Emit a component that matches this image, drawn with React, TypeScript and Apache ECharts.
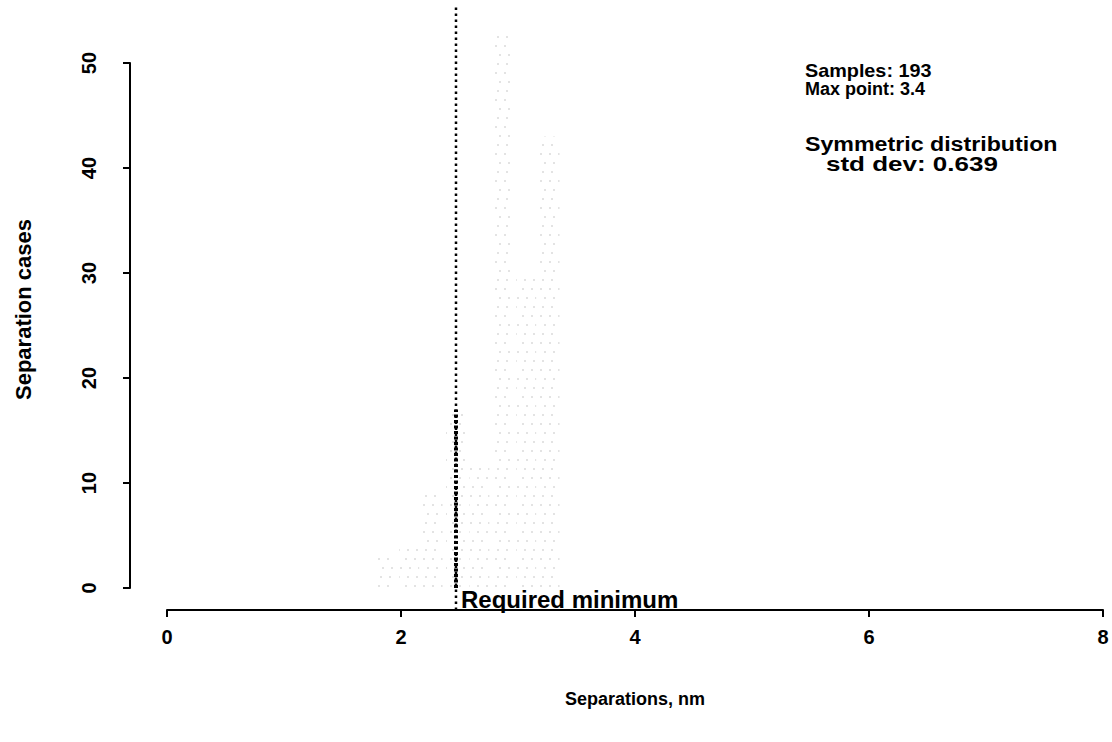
import React, { useEffect, useRef } from "react";
import * as echarts from "echarts";

// Histogram bin centres (nm) and counts
const binCenters = [1.87, 2.07, 2.27, 2.47, 2.67, 2.87, 3.07, 3.27];
const binCounts = [3, 4, 9, 17, 12, 53, 30, 43];

const xTicks = [0, 2, 4, 6, 8];
const yTicks = [0, 10, 20, 30, 40, 50];

const requiredMinimum = 2.47;
const requiredLineSpan = [-2.1, 55.3];
const requiredLabel = "Required minimum";

const statsLines = ["Samples: 193", "Max point: 3.4"];
const distLines = ["Symmetric distribution", "std dev: 0.639"];

const FONT = "'Liberation Sans', Arial, Helvetica, sans-serif";

export default function App() {
  const ref = useRef<HTMLDivElement>(null);

  useEffect(() => {
    if (!ref.current) return;
    const chart = echarts.init(ref.current, undefined, { renderer: "svg" });

    const option: any = {
      animation: false,
      backgroundColor: "#ffffff",
      textStyle: { fontFamily: FONT },
      grid: { left: 167, top: 63, width: 936, height: 525, containLabel: false },
      xAxis: {
        type: "value",
        min: xTicks[0],
        max: xTicks[xTicks.length - 1],
        interval: 2,
        position: "bottom",
        offset: 22,
        name: "Separations, nm",
        nameLocation: "middle",
        nameGap: 80,
        nameTextStyle: { color: "#000", fontSize: 18, fontWeight: "bold", fontFamily: FONT },
        axisLine: { show: true, onZero: false, lineStyle: { color: "#000", width: 2 } },
        axisTick: { show: true, inside: false, length: 7, lineStyle: { color: "#000", width: 2 } },
        axisLabel: { color: "#000", fontSize: 20, fontWeight: "bold", margin: 17, fontFamily: FONT },
        splitLine: { show: false },
      },
      yAxis: {
        type: "value",
        min: yTicks[0],
        max: yTicks[yTicks.length - 1],
        interval: 10,
        position: "left",
        offset: 37,
        name: "Separation cases",
        nameLocation: "middle",
        nameGap: 96,
        nameTextStyle: {
          color: "#000",
          fontSize: 22,
          fontWeight: "bold",
          fontFamily: FONT,
          padding: [0, 0, 0, 32],
        },
        axisLine: { show: true, onZero: false, lineStyle: { color: "#000", width: 2 } },
        axisTick: { show: true, inside: false, length: 7, lineStyle: { color: "#000", width: 2 } },
        axisLabel: { color: "#000", fontSize: 20, fontWeight: "bold", rotate: 90, margin: 31, fontFamily: FONT },
        splitLine: { show: false },
      },
      series: [
        {
          type: "bar",
          clip: false,
          barWidth: 20,
          data: binCenters.map((c, i) => [c, binCounts[i]]),
          itemStyle: {
            color: "rgba(255,255,255,0)",
            decal: {
              symbol: "rect",
              symbolSize: 0.5,
              color: "#8e8e8e",
              backgroundColor: "rgba(255,255,255,0)",
              dashArrayX: [[2, 7], [0, 4, 2, 3], [0, 2, 2, 5]],
              dashArrayY: [2, 7],
              rotation: 0,
            },
          },
        },
        {
          type: "line",
          clip: false,
          silent: true,
          symbol: "none",
          data: requiredLineSpan.map((v) => [requiredMinimum, v]),
          lineStyle: { color: "#000", width: 2.5, type: [2.5, 3.5] },
          z: 5,
        },
        {
          type: "line",
          clip: false,
          silent: true,
          symbol: "none",
          data: [0, binCounts[3]].map((v) => [requiredMinimum, v]),
          lineStyle: { color: "#000", width: 4, type: [3, 2.5] },
          z: 6,
        },
      ],
      graphic: [
        {
          type: "text",
          left: 461,
          top: 587,
          style: { text: requiredLabel, fill: "#000", font: `bold 24px ${FONT}` },
        },
        {
          type: "text",
          left: 805,
          top: 62,
          scaleX: 1.1,
          style: { text: statsLines[0], fill: "#000", font: `bold 18px ${FONT}` },
        },
        {
          type: "text",
          left: 805,
          top: 80,
          style: { text: statsLines[1], fill: "#000", font: `bold 18px ${FONT}` },
        },
        {
          type: "text",
          left: 805,
          top: 134,
          scaleX: 1.16,
          style: { text: distLines[0], fill: "#000", font: `bold 20px ${FONT}` },
        },
        {
          type: "text",
          left: 826,
          top: 154,
          scaleX: 1.3,
          style: { text: distLines[1], fill: "#000", font: `bold 20px ${FONT}` },
        },
      ],
    };

    chart.setOption(option);
    return () => chart.dispose();
  }, []);

  return (
    <div
      ref={ref}
      style={{ position: "fixed", left: 0, top: 0, width: 1112, height: 742, background: "#fff" }}
    />
  );
}
